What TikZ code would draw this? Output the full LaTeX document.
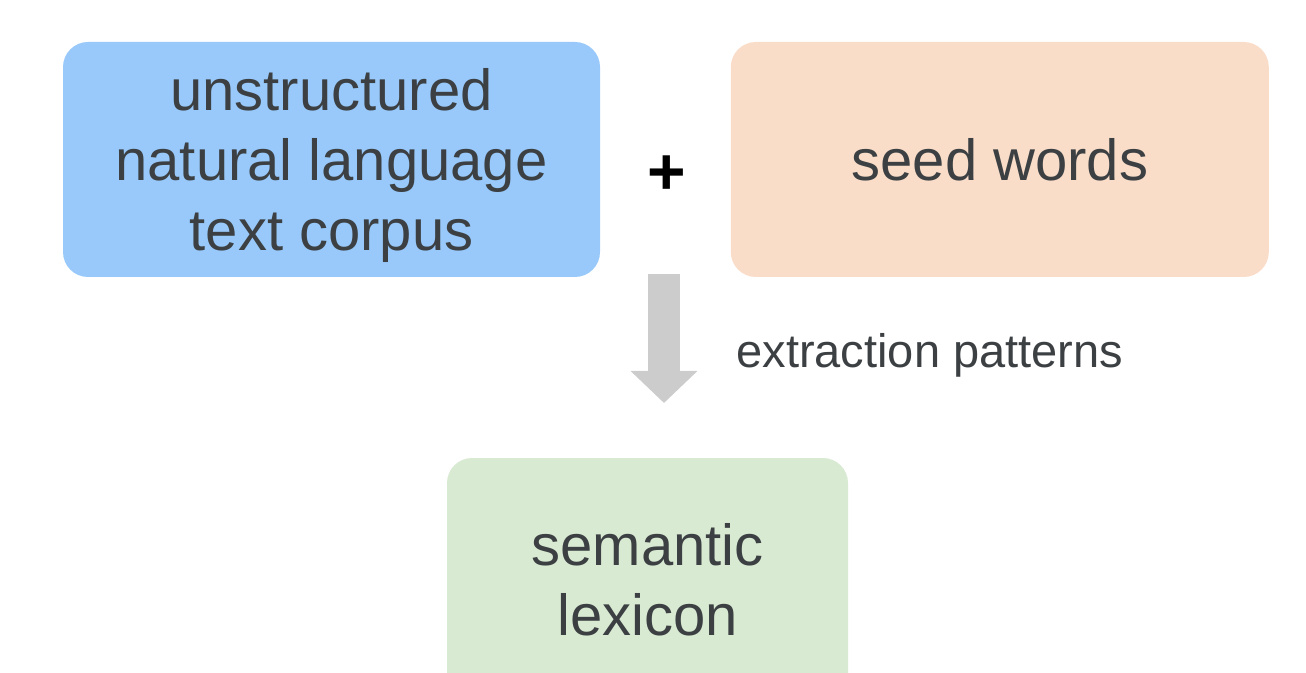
\documentclass[tikz,border=0pt]{standalone}
\usepackage{fontspec}
\setmainfont{Liberation Sans}
\usepackage{tikz}
\usetikzlibrary{arrows.meta, positioning}
\definecolor{mytext}{RGB}{60,64,67}
\definecolor{myblue}{RGB}{152,201,250}
\definecolor{mypeach}{RGB}{249,221,201}
\definecolor{mygreen}{RGB}{217,234,211}
\definecolor{mygray}{RGB}{204,204,204}
\tikzset{
  box/.style={rectangle, draw=none, align=center, text=mytext,
    rounded corners=12.5pt, inner sep=0pt,
    font=\fontsize{29}{35}\selectfont},
  bluebox/.style={box, fill=myblue, minimum width=268.5pt, minimum height=117.5pt},
  peachbox/.style={box, fill=mypeach, minimum width=269pt, minimum height=117.5pt},
  greenbox/.style={box, fill=mygreen, minimum width=200.5pt, minimum height=122pt},
  bigarrow/.style={mygray, line width=16pt,
    -{Triangle[width=32.5pt, length=16pt]}},
  lbl/.style={text=mytext, inner sep=0pt, font=\fontsize{23.5}{28}\selectfont}
}

\begin{document}
\begin{tikzpicture}[x=0.5pt, y=-0.5pt]
  \useasboundingbox (0,0) rectangle (1306,673);
  \clip (0,0) rectangle (1306,673);

  % Inputs
  \node[bluebox] (corpus) at (331.5,159.5)
    {\raisebox{-3.5pt}[\height][\depth]{\begin{tabular}{@{}c@{}}unstructured\\natural language\\text corpus\end{tabular}}};
  \node[peachbox, right=65pt of corpus] (seeds) {seed words};
  \node[inner sep=0pt, font=\fontsize{33}{33}\selectfont\bfseries] (plus) at (667,175) {+};

  % Output
  \node[greenbox] (lexicon) at (647.5,580) {semantic\\lexicon};

  % Arrow
  \coordinate (arrtop) at (664,274);
  \coordinate (arrtip) at (664,403);
  \draw[bigarrow] (arrtop) -- (arrtip);
  \node[lbl, anchor=base west] (extr) at (736,368) {extraction patterns};
\end{tikzpicture}
\end{document}
